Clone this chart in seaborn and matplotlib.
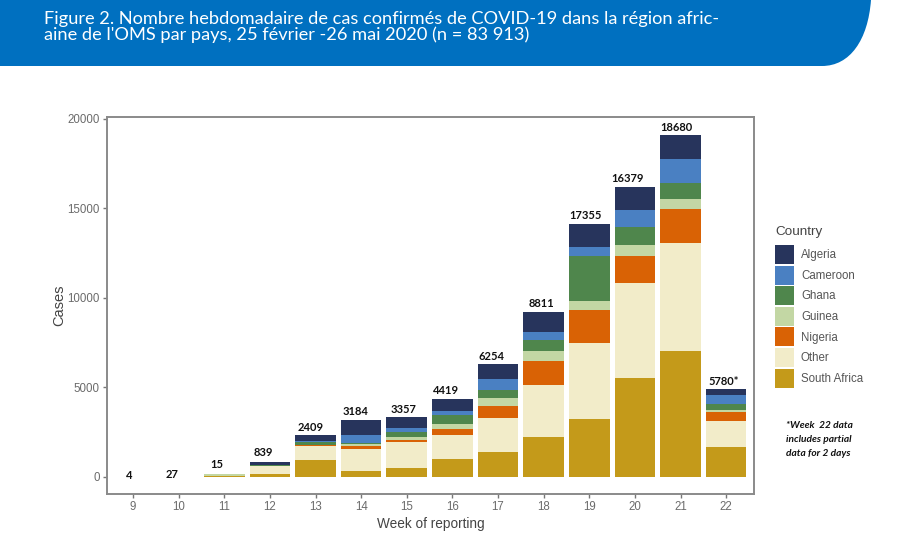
import matplotlib
matplotlib.use("Agg")
import matplotlib.pyplot as plt
import seaborn as sns
import numpy as np
from matplotlib.patches import Patch, PathPatch
from matplotlib.path import Path

weeks = [9, 10, 11, 12, 13, 14, 15, 16, 17, 18, 19, 20, 21, 22]
totals = ["4", "27", "15", "839", "2409", "3184", "3357", "4419", "6254", "8811", "17355", "16379", "18680", "5780*"]

south_africa = [0, 0, 70, 190, 970, 335, 480, 985, 1375, 2230, 3220, 5505, 7050, 1675]
other = [0, 0, 0, 400, 780, 1230, 1450, 1375, 1900, 2920, 4280, 5300, 6025, 1430]
nigeria = [0, 0, 0, 20, 30, 150, 110, 335, 670, 1300, 1840, 1525, 1900, 500]
guinea = [0, 0, 100, 30, 30, 150, 190, 280, 465, 560, 500, 595, 520, 150]
ghana = [0, 0, 0, 20, 160, 20, 260, 480, 465, 615, 2475, 1040, 930, 300]
cameroon = [0, 0, 0, 20, 50, 480, 260, 220, 615, 465, 520, 930, 1340, 500]
algeria = [0, 0, 0, 160, 300, 820, 595, 670, 800, 1100, 1265, 1300, 1320, 335]

# bottom to top
stack = [
    ("South Africa", south_africa, "#C49A1A"),
    ("Other", other, "#F2ECC9"),
    ("Nigeria", nigeria, "#D96205"),
    ("Guinea", guinea, "#C3D7A4"),
    ("Ghana", ghana, "#4F864C"),
    ("Cameroon", cameroon, "#4A80C2"),
    ("Algeria", algeria, "#27345C"),
]

# small shifts of the total labels, in pixels
label_dx = [-4, -7, -7, -7, -5, -6, -3, -6, -7, -2, -4, -7, -4, -3]
label_dy = [1, 2, 9, 9, 8, 8, 8, 9, 8, 9, 9, 8, 8, 8]

sns.set_theme(style="white")
plt.rcParams["font.family"] = ["Liberation Sans", "DejaVu Sans"]

W, H = 908, 544
fig = plt.figure(figsize=(W / 100, H / 100), dpi=100, facecolor="white")
ax = fig.add_axes([107 / W, (H - 494) / H, 647 / W, 377 / H])

bottom = np.zeros(len(weeks))
for name, vals, col in stack:
    sns.barplot(x=weeks, y=vals, bottom=bottom, color=col, saturation=1, width=0.89, linewidth=0, ax=ax)
    bottom += np.array(vals)

ax.set_xlim(-0.57, 13.61)
ax.set_ylim(-950, 20090)
ax.set_yticks([0, 5000, 10000, 15000, 20000])
ax.set_xlabel("Week of reporting", fontsize=9.8, color="#444444", va="top")
ax.set_ylabel("Cases", fontsize=10.5, color="#444444", va="bottom")
ax.xaxis.set_label_coords(0.5, -(517 - 494) / 377)
ax.yaxis.set_label_coords((66 - 107) / 647, 0.5)
ax.tick_params(axis="both", length=3, width=1, color="#777777", labelcolor="#6b6b6b", labelsize=8.3, pad=2.2, bottom=True, left=True)
for sp in ax.spines.values():
    sp.set_color("#8a8a8a")
    sp.set_linewidth(1.4)

for i, t in enumerate(totals):
    ax.annotate(t, (i, bottom[i]), xytext=(label_dx[i] * 0.72, label_dy[i] * 0.72), textcoords="offset points",
                ha="center", va="center", fontsize=8, fontweight="bold", color="#111111", family="Lato")

handles = [Patch(facecolor=col, edgecolor="none", label=name) for name, vals, col in stack[::-1]]
leg = fig.legend(handles=handles, title="Country", loc="upper left", bbox_to_anchor=(775 / W, 1 - 226 / H),
                 frameon=False, fontsize=8.3, title_fontsize=9.7, alignment="left", borderpad=0, borderaxespad=0,
                 handlelength=1.65, handleheight=2.16, labelspacing=0.14, handletextpad=0.6)
leg._legend_box.sep = 5
leg.get_title().set_color("#444444")
for txt in leg.get_texts():
    txt.set_color("#555555")

for k, line in enumerate(["*Week  22 data", "includes partial", "data for 2 days"]):
    fig.text(786 / W, 1 - (425 + 14 * k) / H, line, ha="left", va="center", fontsize=7.3, family="Lato",
             style="italic", fontweight="bold", color="#111111")

# blue banner with the curved corner, in pixels
verts = [(0, 0), (871, 0), (868, 40), (850, 66), (822, 66), (0, 66), (0, 0)]
codes = [Path.MOVETO, Path.LINETO, Path.CURVE4, Path.CURVE4, Path.CURVE4, Path.LINETO, Path.CLOSEPOLY]
verts = [(x / W, 1 - y / H) for x, y in verts]
fig.add_artist(PathPatch(Path(verts, codes), transform=fig.transFigure, facecolor="#0070C0", edgecolor="none"))

fig.text(44 / W, 1 - 19 / H, "Figure 2. Nombre hebdomadaire de cas confirmés de COVID-19 dans la région afric-",
         color="white", fontsize=13.15, family="Lato", ha="left", va="center")
fig.text(44 / W, 1 - 35 / H, "aine de l'OMS par pays, 25 février -26 mai 2020 (n = 83 913)",
         color="white", fontsize=13.15, family="Lato", ha="left", va="center")

fig.savefig("out.png", dpi=100)
